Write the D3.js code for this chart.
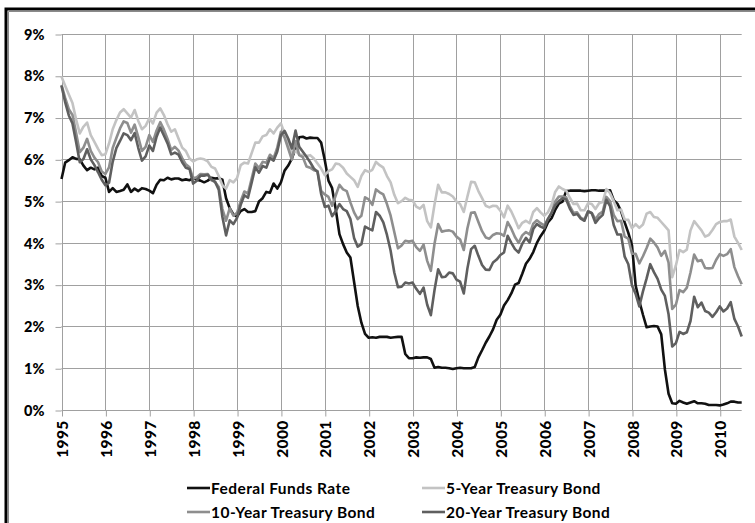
<!DOCTYPE html>
<html>
<head>
<meta charset="utf-8">
<script src="https://cdn.jsdelivr.net/npm/d3@7"></script>
<style>
  body { margin: 0; background: #fff; }
  svg { display: block; font-family: Lato, "Liberation Sans", sans-serif; }
</style>
</head>
<body>
<svg id="chart" width="755" height="523"></svg>
<script>
// monthly values, Jan 1995 .. Jul 2010 (percent)
var startYear = 1995;

var fedFunds = [
  5.53, 5.92, 5.98, 6.05, 6.01, 6.00, 5.85, 5.74, 5.80, 5.76, 5.80, 5.60,
  5.56, 5.22, 5.31, 5.22, 5.24, 5.27, 5.40, 5.22, 5.30, 5.24, 5.31, 5.29,
  5.25, 5.19, 5.39, 5.51, 5.50, 5.56, 5.52, 5.54, 5.54, 5.50, 5.52, 5.50,
  5.56, 5.51, 5.49, 5.45, 5.49, 5.56, 5.54, 5.55, 5.51, 5.07, 4.83, 4.68,
  4.63, 4.76, 4.81, 4.74, 4.74, 4.76, 4.99, 5.07, 5.22, 5.20, 5.42, 5.30,
  5.45, 5.73, 5.85, 6.02, 6.27, 6.53, 6.54, 6.50, 6.52, 6.51, 6.51, 6.40,
  5.98, 5.49, 5.31, 4.80, 4.21, 3.97, 3.77, 3.65, 3.07, 2.49, 2.09, 1.82,
  1.73, 1.74, 1.73, 1.75, 1.75, 1.75, 1.73, 1.74, 1.75, 1.75, 1.34, 1.24,
  1.24, 1.26, 1.25, 1.26, 1.26, 1.22, 1.01, 1.03, 1.01, 1.01, 1.00, 0.98,
  1.00, 1.01, 1.00, 1.00, 1.00, 1.03, 1.26, 1.43, 1.61, 1.76, 1.93, 2.16,
  2.28, 2.50, 2.63, 2.79, 3.00, 3.04, 3.26, 3.50, 3.62, 3.78, 4.00, 4.16,
  4.29, 4.49, 4.59, 4.79, 4.94, 4.99, 5.24, 5.25, 5.25, 5.25, 5.25, 5.24,
  5.25, 5.26, 5.26, 5.25, 5.25, 5.25, 5.26, 5.02, 4.94, 4.76, 4.49, 4.24,
  3.94, 2.98, 2.61, 2.28, 1.98, 2.00, 2.01, 2.00, 1.81, 0.97, 0.39, 0.16,
  0.15, 0.22, 0.18, 0.15, 0.18, 0.21, 0.16, 0.16, 0.15, 0.12, 0.12, 0.12,
  0.11, 0.13, 0.16, 0.20, 0.20, 0.18, 0.18
];

var fiveYear = [
  7.98, 7.76, 7.55, 7.35, 6.95, 6.62, 6.78, 6.88, 6.58, 6.42, 6.25, 6.10,
  6.12, 6.38, 6.72, 6.94, 7.12, 7.20, 7.10, 7.00, 7.18, 6.92, 6.72, 6.80,
  6.98, 6.86, 7.12, 7.22, 7.06, 6.84, 6.66, 6.72, 6.50, 6.28, 6.20, 6.02,
  5.95, 6.00, 6.02, 6.00, 5.95, 5.82, 5.78, 5.60, 5.38, 5.30, 5.50, 5.45,
  5.55, 5.86, 5.92, 5.90, 6.15, 6.40, 6.40, 6.55, 6.58, 6.72, 6.62, 6.76,
  6.86, 6.62, 6.38, 6.12, 6.20, 6.12, 6.10, 6.08, 6.10, 6.02, 5.90, 5.78,
  5.62, 5.72, 5.76, 5.90, 5.88, 5.80, 5.66, 5.58, 5.50, 5.34, 5.60, 5.74,
  5.70, 5.75, 5.94, 5.86, 5.80, 5.60, 5.45, 5.15, 4.95, 5.00, 5.08, 5.03,
  5.02, 4.87, 4.82, 4.91, 4.52, 4.37, 4.92, 5.39, 5.21, 5.21, 5.17, 5.11,
  4.99, 4.93, 4.74, 5.11, 5.46, 5.45, 5.24, 5.07, 4.89, 4.85, 4.89, 4.88,
  4.77, 4.61, 4.89, 4.75, 4.56, 4.35, 4.48, 4.53, 4.47, 4.74, 4.83, 4.73,
  4.65, 4.73, 4.91, 5.22, 5.35, 5.29, 5.25, 5.08, 4.93, 4.94, 4.78, 4.78,
  4.95, 4.93, 4.81, 4.95, 4.98, 5.29, 5.19, 5.00, 4.78, 4.80, 4.56, 4.55,
  4.35, 4.45, 4.36, 4.44, 4.70, 4.74, 4.62, 4.60, 4.50, 4.40, 4.30, 3.18,
  3.46, 3.83, 3.78, 3.84, 4.30, 4.52, 4.41, 4.30, 4.15, 4.19, 4.31, 4.45,
  4.50, 4.52, 4.52, 4.56, 4.15, 4.00, 3.83
];

var tenYear = [
  7.78, 7.47, 7.20, 7.06, 6.63, 6.17, 6.28, 6.49, 6.20, 6.04, 5.93, 5.71,
  5.65, 5.81, 6.27, 6.51, 6.74, 6.91, 6.87, 6.64, 6.83, 6.53, 6.20, 6.30,
  6.58, 6.42, 6.69, 6.89, 6.71, 6.49, 6.22, 6.30, 6.21, 6.03, 5.88, 5.81,
  5.54, 5.57, 5.65, 5.64, 5.65, 5.50, 5.46, 5.34, 4.81, 4.53, 4.83, 4.65,
  4.72, 5.00, 5.23, 5.18, 5.54, 5.90, 5.79, 5.94, 5.92, 6.11, 6.03, 6.28,
  6.66, 6.52, 6.26, 5.99, 6.44, 6.10, 6.05, 5.83, 5.80, 5.74, 5.72, 5.24,
  5.16, 5.10, 4.89, 5.14, 5.39, 5.28, 5.24, 4.97, 4.73, 4.57, 4.65, 5.09,
  5.04, 4.91, 5.28, 5.21, 5.16, 4.93, 4.65, 4.26, 3.87, 3.94, 4.05, 4.03,
  4.05, 3.90, 3.81, 3.96, 3.57, 3.33, 3.98, 4.45, 4.27, 4.29, 4.30, 4.27,
  4.15, 4.08, 3.83, 4.35, 4.72, 4.73, 4.50, 4.28, 4.13, 4.10, 4.19, 4.23,
  4.22, 4.17, 4.50, 4.34, 4.14, 4.00, 4.18, 4.26, 4.20, 4.46, 4.54, 4.47,
  4.42, 4.57, 4.72, 4.99, 5.11, 5.11, 5.09, 4.88, 4.72, 4.73, 4.60, 4.56,
  4.76, 4.72, 4.56, 4.69, 4.75, 5.10, 5.00, 4.67, 4.52, 4.53, 4.15, 4.10,
  3.74, 3.74, 3.51, 3.68, 3.88, 4.10, 4.01, 3.89, 3.69, 3.81, 3.53, 2.42,
  2.52, 2.87, 2.82, 2.93, 3.29, 3.72, 3.56, 3.59, 3.40, 3.39, 3.40, 3.59,
  3.73, 3.69, 3.73, 3.85, 3.42, 3.20, 3.01
];

var twentyYear = [
  7.76, 7.37, 7.05, 6.86, 6.41, 5.93, 6.01, 6.24, 6.00, 5.86, 5.69, 5.51,
  5.38, 5.44, 5.94, 6.27, 6.44, 6.62, 6.58, 6.46, 6.63, 6.27, 5.97, 6.07,
  6.33, 6.20, 6.54, 6.76, 6.57, 6.38, 6.12, 6.16, 6.11, 5.93, 5.80, 5.77,
  5.42, 5.49, 5.61, 5.61, 5.63, 5.52, 5.46, 5.27, 4.62, 4.18, 4.54, 4.45,
  4.60, 4.91, 5.14, 5.08, 5.44, 5.81, 5.68, 5.84, 5.80, 6.03, 5.97, 6.19,
  6.58, 6.68, 6.50, 6.26, 6.69, 6.30, 6.18, 6.06, 5.93, 5.78, 5.70, 5.17,
  4.86, 4.89, 4.64, 4.76, 4.93, 4.81, 4.76, 4.57, 4.12, 3.91, 3.97, 4.39,
  4.34, 4.30, 4.74, 4.65, 4.49, 4.19, 3.81, 3.29, 2.94, 2.95, 3.05, 3.03,
  3.05, 2.90, 2.78, 2.93, 2.52, 2.27, 2.87, 3.37, 3.18, 3.19, 3.29, 3.27,
  3.12, 3.07, 2.79, 3.39, 3.85, 3.93, 3.69, 3.47, 3.36, 3.35, 3.53, 3.60,
  3.71, 3.77, 4.17, 4.00, 3.85, 3.77, 3.98, 4.12, 4.01, 4.33, 4.45, 4.39,
  4.35, 4.57, 4.72, 4.90, 5.00, 5.07, 5.04, 4.82, 4.67, 4.69, 4.58, 4.53,
  4.75, 4.71, 4.48, 4.59, 4.67, 5.03, 4.88, 4.43, 4.20, 4.20, 3.67, 3.49,
  2.98, 2.78, 2.48, 2.84, 3.15, 3.49, 3.30, 3.14, 2.88, 2.73, 2.29, 1.52,
  1.60, 1.87, 1.82, 1.86, 2.13, 2.71, 2.46, 2.57, 2.37, 2.33, 2.23, 2.34,
  2.48, 2.36, 2.43, 2.58, 2.18, 2.00, 1.76
];

var yearTicks = d3.range(1995, 2011);
var pctTicks = d3.range(0, 10);
var seriesNames = ["Federal Funds Rate", "5-Year Treasury Bond", "10-Year Treasury Bond", "20-Year Treasury Bond"];

var colors = ["#111111", "#c3c3c3", "#8e8e8e", "#5f5f5f"];

var svg = d3.select("#chart");

var x = d3.scaleLinear()
  .domain([startYear, startYear + (fedFunds.length - 1) / 12])
  .range([61.5, 741.7]);
var y = d3.scaleLinear().domain([0, 9]).range([410, 34]);

// frame (only top and left edges show in the picture)
svg.append("path").attr("d", "M6,523V9H755")
  .attr("fill", "none").attr("stroke", "#000").attr("stroke-width", 3);
svg.append("path").attr("d", "M8.5,523V11.5H755")
  .attr("fill", "none").attr("stroke", "#8a8a8a").attr("stroke-width", 1);

// grid
var grid = svg.append("g").attr("stroke", "#a0a0a0").attr("stroke-width", 1);
grid.selectAll(".h").data(pctTicks).enter().append("line")
  .attr("x1", x.range()[0]).attr("x2", x.range()[1])
  .attr("y1", function (d) { return Math.round(y(d)) + 0.5; })
  .attr("y2", function (d) { return Math.round(y(d)) + 0.5; });
grid.selectAll(".v").data(yearTicks).enter().append("line")
  .attr("x1", function (d) { return Math.round(x(d)) + 0.5; })
  .attr("x2", function (d) { return Math.round(x(d)) + 0.5; })
  .attr("y1", y(9)).attr("y2", y(0));

// axes
var yAxis = svg.append("g").attr("transform", "translate(61.5,0.5)")
  .call(d3.axisLeft(y).tickValues(pctTicks).tickSize(6).tickPadding(11)
    .tickFormat(function (d) { return d + "%"; }));
var xAxis = svg.append("g").attr("transform", "translate(0.5,410.5)")
  .call(d3.axisBottom(x).tickValues(yearTicks).tickSize(6)
    .tickFormat(d3.format("d")));

[yAxis, xAxis].forEach(function (a) {
  a.select(".domain").remove();
  a.selectAll(".tick line").attr("stroke", "#a0a0a0");
  a.selectAll("text").attr("fill", "#000").attr("font-weight", "900")
    .attr("font-family", "Lato, 'Liberation Sans', sans-serif");
});
yAxis.selectAll("text").attr("font-size", 14.5);
xAxis.selectAll("text")
  .attr("font-size", 15.5)
  .attr("letter-spacing", 0.3)
  .attr("transform", "rotate(-90)")
  .attr("text-anchor", "end")
  .attr("x", -10).attr("y", 0).attr("dy", "0.36em");

// series
var series = [fedFunds, fiveYear, tenYear, twentyYear];
var line = d3.line()
  .x(function (d, i) { return x(startYear + i / 12); })
  .y(function (d) { return y(d); });

svg.append("g").selectAll("path").data(series).enter().append("path")
  .attr("d", line)
  .attr("fill", "none")
  .attr("stroke", function (d, i) { return colors[i]; })
  .attr("stroke-width", 2.6)
  .attr("stroke-linejoin", "round");

// legend, two columns
var legend = svg.append("g").selectAll("g").data(seriesNames).enter().append("g")
  .attr("transform", function (d, i) {
    return "translate(" + (i % 2 ? 422 : 187) + "," + (i < 2 ? 488 : 512) + ")";
  });
legend.append("line")
  .attr("x1", 0).attr("x2", 23)
  .attr("stroke", function (d, i) { return colors[i]; })
  .attr("stroke-width", 2.6);
legend.append("text")
  .attr("x", 24).attr("dy", "0.36em")
  .attr("font-size", 15.5).attr("font-weight", "bold")
  .attr("letter-spacing", 0.45)
  .text(function (d) { return d; });
</script>
</body>
</html>
